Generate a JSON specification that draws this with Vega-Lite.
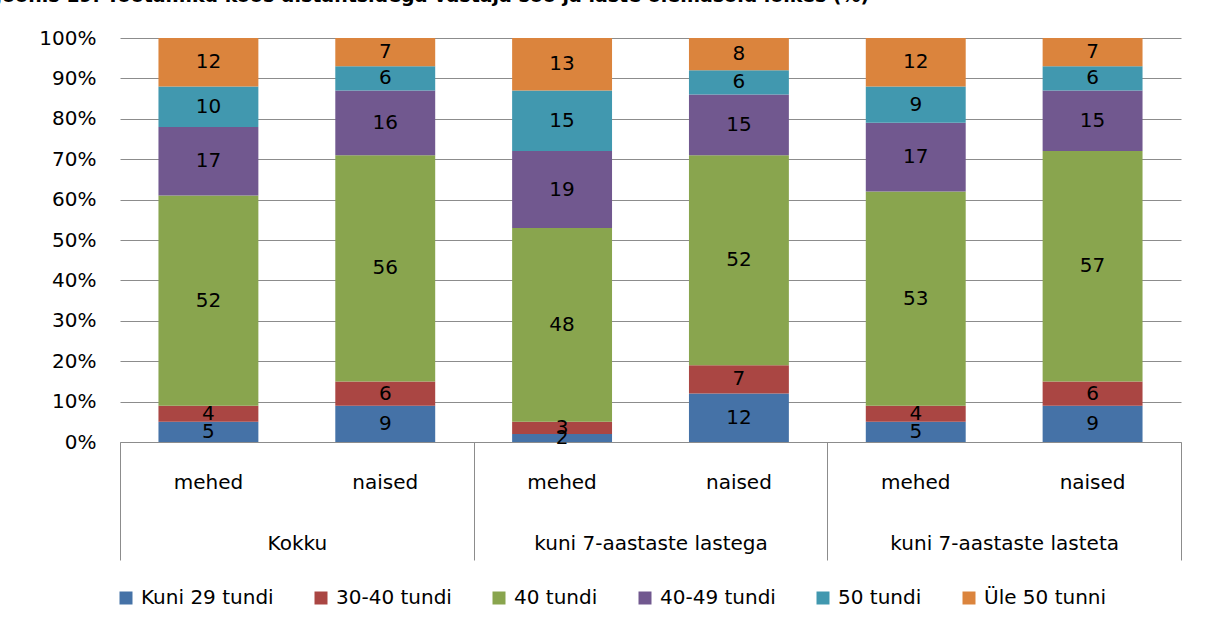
{
  "$schema": "https://vega.github.io/schema/vega-lite/v6.json",
  "width": 1061,
  "height": 404,
  "autosize": "none",
  "padding": {"left": 120, "top": 38, "right": 25, "bottom": 184},
  "background": "white",
  "title": {
    "text": "Joonis 19. Töötamiku koos distantsidega vastaja soo ja laste olemasolu lõikes (%)",
    "anchor": "start",
    "frame": "group",
    "dx": -125,
    "dy": 15,
    "offset": 22,
    "baseline": "alphabetic",
    "font": "DejaVu Sans",
    "fontSize": 19,
    "fontWeight": "bold",
    "color": "black"
  },
  "data": {
    "values": [
      {"grp": "Kokku", "key": "Kokku|mehed", "cat": "Kuni 29 tundi", "k": 1, "v": 5},
      {"grp": "Kokku", "key": "Kokku|mehed", "cat": "30-40 tundi", "k": 2, "v": 4},
      {"grp": "Kokku", "key": "Kokku|mehed", "cat": "40 tundi", "k": 3, "v": 52},
      {"grp": "Kokku", "key": "Kokku|mehed", "cat": "40-49 tundi", "k": 4, "v": 17},
      {"grp": "Kokku", "key": "Kokku|mehed", "cat": "50 tundi", "k": 5, "v": 10},
      {"grp": "Kokku", "key": "Kokku|mehed", "cat": "Üle 50 tunni", "k": 6, "v": 12},
      {"grp": "Kokku", "key": "Kokku|naised", "cat": "Kuni 29 tundi", "k": 1, "v": 9},
      {"grp": "Kokku", "key": "Kokku|naised", "cat": "30-40 tundi", "k": 2, "v": 6},
      {"grp": "Kokku", "key": "Kokku|naised", "cat": "40 tundi", "k": 3, "v": 56},
      {"grp": "Kokku", "key": "Kokku|naised", "cat": "40-49 tundi", "k": 4, "v": 16},
      {"grp": "Kokku", "key": "Kokku|naised", "cat": "50 tundi", "k": 5, "v": 6},
      {"grp": "Kokku", "key": "Kokku|naised", "cat": "Üle 50 tunni", "k": 6, "v": 7},
      {"grp": "kuni 7-aastaste  lastega", "key": "lastega|mehed", "cat": "Kuni 29 tundi", "k": 1, "v": 2},
      {"grp": "kuni 7-aastaste  lastega", "key": "lastega|mehed", "cat": "30-40 tundi", "k": 2, "v": 3},
      {"grp": "kuni 7-aastaste  lastega", "key": "lastega|mehed", "cat": "40 tundi", "k": 3, "v": 48},
      {"grp": "kuni 7-aastaste  lastega", "key": "lastega|mehed", "cat": "40-49 tundi", "k": 4, "v": 19},
      {"grp": "kuni 7-aastaste  lastega", "key": "lastega|mehed", "cat": "50 tundi", "k": 5, "v": 15},
      {"grp": "kuni 7-aastaste  lastega", "key": "lastega|mehed", "cat": "Üle 50 tunni", "k": 6, "v": 13},
      {"grp": "kuni 7-aastaste  lastega", "key": "lastega|naised", "cat": "Kuni 29 tundi", "k": 1, "v": 12},
      {"grp": "kuni 7-aastaste  lastega", "key": "lastega|naised", "cat": "30-40 tundi", "k": 2, "v": 7},
      {"grp": "kuni 7-aastaste  lastega", "key": "lastega|naised", "cat": "40 tundi", "k": 3, "v": 52},
      {"grp": "kuni 7-aastaste  lastega", "key": "lastega|naised", "cat": "40-49 tundi", "k": 4, "v": 15},
      {"grp": "kuni 7-aastaste  lastega", "key": "lastega|naised", "cat": "50 tundi", "k": 5, "v": 6},
      {"grp": "kuni 7-aastaste  lastega", "key": "lastega|naised", "cat": "Üle 50 tunni", "k": 6, "v": 8},
      {"grp": "kuni 7-aastaste  lasteta", "key": "lasteta|mehed", "cat": "Kuni 29 tundi", "k": 1, "v": 5},
      {"grp": "kuni 7-aastaste  lasteta", "key": "lasteta|mehed", "cat": "30-40 tundi", "k": 2, "v": 4},
      {"grp": "kuni 7-aastaste  lasteta", "key": "lasteta|mehed", "cat": "40 tundi", "k": 3, "v": 53},
      {"grp": "kuni 7-aastaste  lasteta", "key": "lasteta|mehed", "cat": "40-49 tundi", "k": 4, "v": 17},
      {"grp": "kuni 7-aastaste  lasteta", "key": "lasteta|mehed", "cat": "50 tundi", "k": 5, "v": 9},
      {"grp": "kuni 7-aastaste  lasteta", "key": "lasteta|mehed", "cat": "Üle 50 tunni", "k": 6, "v": 12},
      {"grp": "kuni 7-aastaste  lasteta", "key": "lasteta|naised", "cat": "Kuni 29 tundi", "k": 1, "v": 9},
      {"grp": "kuni 7-aastaste  lasteta", "key": "lasteta|naised", "cat": "30-40 tundi", "k": 2, "v": 6},
      {"grp": "kuni 7-aastaste  lasteta", "key": "lasteta|naised", "cat": "40 tundi", "k": 3, "v": 57},
      {"grp": "kuni 7-aastaste  lasteta", "key": "lasteta|naised", "cat": "40-49 tundi", "k": 4, "v": 15},
      {"grp": "kuni 7-aastaste  lasteta", "key": "lasteta|naised", "cat": "50 tundi", "k": 5, "v": 6},
      {"grp": "kuni 7-aastaste  lasteta", "key": "lasteta|naised", "cat": "Üle 50 tunni", "k": 6, "v": 7}
    ]
  },
  "layer": [
    {
      "layer": [
        {
          "mark": {"type": "bar"},
          "encoding": {
            "x": {
              "field": "key", "type": "nominal", "sort": null,
              "scale": {"type": "band", "paddingInner": 0.435, "paddingOuter": 0.2175},
              "axis": {
                "orient": "bottom", "title": null, "labelAngle": 0,
                "labelExpr": "split(datum.value, '|')[1]",
                "ticks": false, "domain": true, "domainColor": "#8c8c8c", "domainWidth": 1,
                "labelPadding": 30, "labelBaseline": "top", "labelOverlap": false,
                "labelFont": "DejaVu Sans", "labelFontSize": 20, "labelColor": "black"
              }
            },
            "y": {
              "field": "v", "type": "quantitative", "stack": "zero",
              "scale": {"domain": [0, 100], "nice": false},
              "axis": {
                "title": null, "values": [0, 10, 20, 30, 40, 50, 60, 70, 80, 90, 100],
                "labelExpr": "datum.value + '%'",
                "grid": true, "gridColor": "#8c8c8c", "gridWidth": 1,
                "domain": false, "ticks": false, "labelPadding": 24,
                "labelFont": "DejaVu Sans", "labelFontSize": 20, "labelColor": "black"
              }
            },
            "color": {
              "field": "cat", "type": "nominal",
              "scale": {
                "domain": ["Kuni 29 tundi", "30-40 tundi", "40 tundi", "40-49 tundi", "50 tundi", "Üle 50 tunni"],
                "range": ["#4572A7", "#AA4643", "#89A54E", "#71588F", "#4198AF", "#DB843D"]
              },
              "legend": {
                "orient": "none", "legendX": -4, "legendY": 550,
                "direction": "horizontal", "columns": 6, "title": null,
                "symbolType": "square", "symbolSize": 169, "symbolStrokeWidth": 0, "symbolOpacity": 1,
                "labelFont": "DejaVu Sans", "labelFontSize": 20, "labelColor": "black",
                "labelOffset": 5, "columnPadding": 37, "labelLimit": 300
              }
            },
            "order": {"field": "k", "type": "quantitative"}
          }
        },
        {
          "mark": {"type": "text", "font": "DejaVu Sans", "fontSize": 20, "color": "black", "baseline": "middle"},
          "encoding": {
            "x": {"field": "key", "type": "nominal", "sort": null},
            "y": {"field": "v", "type": "quantitative", "stack": "zero", "bandPosition": 0.5},
            "detail": {"field": "cat"},
            "order": {"field": "k", "type": "quantitative"},
            "text": {"field": "v", "type": "quantitative"}
          }
        }
      ]
    },
    {
      "mark": {"type": "bar", "opacity": 0},
      "encoding": {
        "x": {
          "field": "grp", "type": "nominal", "sort": null,
          "scale": {"type": "band", "paddingInner": 0, "paddingOuter": 0},
          "axis": {
            "orient": "bottom", "title": null, "labelAngle": 0,
            "domain": false, "ticks": true, "tickBand": "extent", "tickSize": 118,
            "tickColor": "#8c8c8c", "tickWidth": 1,
            "labelPadding": -27, "labelBaseline": "top", "labelOverlap": false, "labelLimit": 400,
            "labelFont": "DejaVu Sans", "labelFontSize": 20, "labelColor": "black"
          }
        }
      }
    }
  ],
  "resolve": {"scale": {"x": "independent"}, "axis": {"x": "independent"}},
  "config": {
    "view": {"stroke": null}
  }
}
